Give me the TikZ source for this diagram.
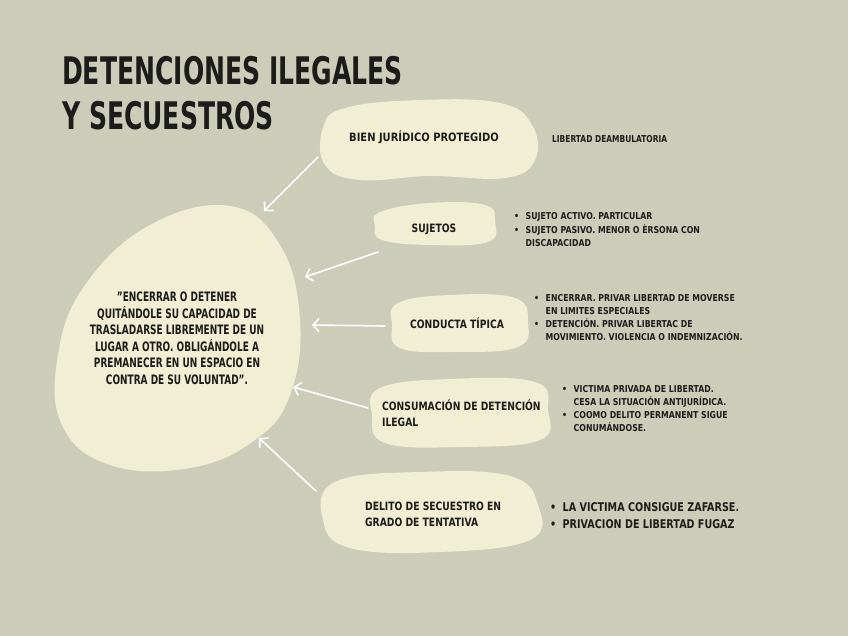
\documentclass[tikz,border=0pt]{standalone}
\usepackage{fontspec}
\setmainfont{DejaVu Sans}
\usetikzlibrary{arrows.meta}
\definecolor{fondo}{HTML}{CCCDB9}
\definecolor{crema}{HTML}{F1EED3}
\definecolor{tinta}{HTML}{1C1C1A}

\begin{document}
\begin{tikzpicture}[x=1pt, y=-1pt,
  mancha/.style={fill=crema, draw=none},
  flecha/.style={-{Straight Barb[length=6pt, width=13pt]}, draw=white, line width=1.6pt, line cap=round},
  titulo/.style={text=tinta, inner sep=0pt, font=\bfseries\fontsize{38}{45}\selectfont, xscale=0.66, align=left},
  etiqueta/.style={text=tinta, inner sep=0pt, font=\bfseries\fontsize{11.5}{16}\selectfont, xscale=0.8, align=left},
  definicion/.style={text=tinta, inner sep=0pt, font=\bfseries\fontsize{13}{16.5}\selectfont, xscale=0.69, align=center},
  lista/.style={text=tinta, inner sep=0pt, font=\bfseries\fontsize{9.5}{13.3}\selectfont, xscale=0.82, align=left},
  listagrande/.style={text=tinta, inner sep=0pt, font=\bfseries\fontsize{12}{17}\selectfont, xscale=0.8, align=left}]

% fondo
\fill[fondo] (0,0) rectangle (848,636);

% manchas
\fill[mancha] plot[smooth cycle, tension=0.7] coordinates {(230,206) (280,245) (300,320) (290,395) (255,440) (190,468) (110,465) (62,425) (58,355) (85,285) (150,225)};
\fill[mancha] plot[smooth cycle, tension=0.7] coordinates {(345,108) (420,100) (500,103) (532,125) (535,160) (505,178) (430,176) (360,180) (325,165) (323,128)};
\fill[mancha] plot[smooth cycle, tension=0.7] coordinates {(380,212) (430,203) (485,205) (495,222) (488,242) (430,245) (382,240) (375,226)};
\fill[mancha] plot[smooth cycle, tension=0.7] coordinates {(398,303) (450,295) (515,298) (528,322) (518,347) (455,352) (400,348) (392,325)};
\fill[mancha] plot[smooth cycle, tension=0.7] coordinates {(380,388) (450,379) (535,382) (548,410) (540,440) (460,447) (385,443) (372,415)};
\fill[mancha] plot[smooth cycle, tension=0.7] coordinates {(335,482) (420,472) (510,476) (538,505) (530,540) (440,552) (350,548) (323,520)};

% titulo
\node[titulo, anchor=base west] (titulo) at (62,130) {DETENCIONES ILEGALES\\Y SECUESTROS};

% definicion
\node[definicion, anchor=north] (def) at (177,292) {"ENCERRAR O DETENER\\QUITÁNDOLE SU CAPACIDAD DE\\TRASLADARSE LIBREMENTE DE UN\\LUGAR A OTRO. OBLIGÁNDOLE A\\PREMANECER EN UN ESPACIO EN\\CONTRA DE SU VOLUNTAD".};

% conceptos
\node[etiqueta, xscale=1.08, anchor=base] (bien) at (424,142) {BIEN JURÍDICO PROTEGIDO};
\node[etiqueta, anchor=base] (suj) at (434,233) {SUJETOS};
\node[etiqueta, anchor=base] (cond) at (457,328) {CONDUCTA TÍPICA};
\node[etiqueta, anchor=north west] (cons) at (382,400) {CONSUMACIÓN DE DETENCIÓN\\ILEGAL};
\node[etiqueta, anchor=north west] (del) at (365,502) {DELITO DE SECUESTRO EN\\GRADO DE TENTATIVA};

% detalles
\node[lista, xscale=0.96, anchor=base west] (bienTxt) at (552,143) {LIBERTAD DEAMBULATORIA};
\node[lista, anchor=base west] (sujTxt) at (514,220) {\begin{tabular}[t]{@{}l@{\hspace{8pt}}l@{}}\textbullet & SUJETO ACTIVO. PARTICULAR\\ \textbullet & SUJETO PASIVO. MENOR O ÈRSONA CON\\ & DISCAPACIDAD\end{tabular}};
\node[lista, anchor=base west] (condTxt) at (534,301) {\begin{tabular}[t]{@{}l@{\hspace{8pt}}l@{}}\textbullet & ENCERRAR. PRIVAR LIBERTAD DE MOVERSE\\ & EN LIMITES ESPECIALES\\ \textbullet & DETENCIÓN. PRIVAR LIBERTAC DE\\ & MOVIMIENTO. VIOLENCIA O INDEMNIZACIÓN.\end{tabular}};
\node[lista, anchor=base west] (consTxt) at (562,392) {\begin{tabular}[t]{@{}l@{\hspace{8pt}}l@{}}\textbullet & VICTIMA PRIVADA DE LIBERTAD.\\ & CESA LA SITUACIÓN ANTIJURÍDICA.\\ \textbullet & COOMO DELITO PERMANENT SIGUE\\ & CONUMÁNDOSE.\end{tabular}};
\node[listagrande, anchor=base west] (delTxt) at (550,511) {\begin{tabular}[t]{@{}l@{\hspace{8pt}}l@{}}\textbullet & LA VICTIMA CONSIGUE ZAFARSE.\\ \textbullet & PRIVACION DE LIBERTAD FUGAZ\end{tabular}};

% puntos de las flechas
\coordinate (bienOut) at (318,157);
\coordinate (bienIn) at (264,211);
\coordinate (sujOut) at (378,252);
\coordinate (sujIn) at (305,277);
\coordinate (condOut) at (385,326);
\coordinate (condIn) at (312,325);
\coordinate (consOut) at (368,408);
\coordinate (consIn) at (293,387);
\coordinate (delOut) at (316,491);
\coordinate (delIn) at (259,438);

\draw[flecha] (bienOut) -- (bienIn);
\draw[flecha] (sujOut) -- (sujIn);
\draw[flecha] (condOut) -- (condIn);
\draw[flecha] (consOut) -- (consIn);
\draw[flecha] (delOut) -- (delIn);
\end{tikzpicture}
\end{document}
